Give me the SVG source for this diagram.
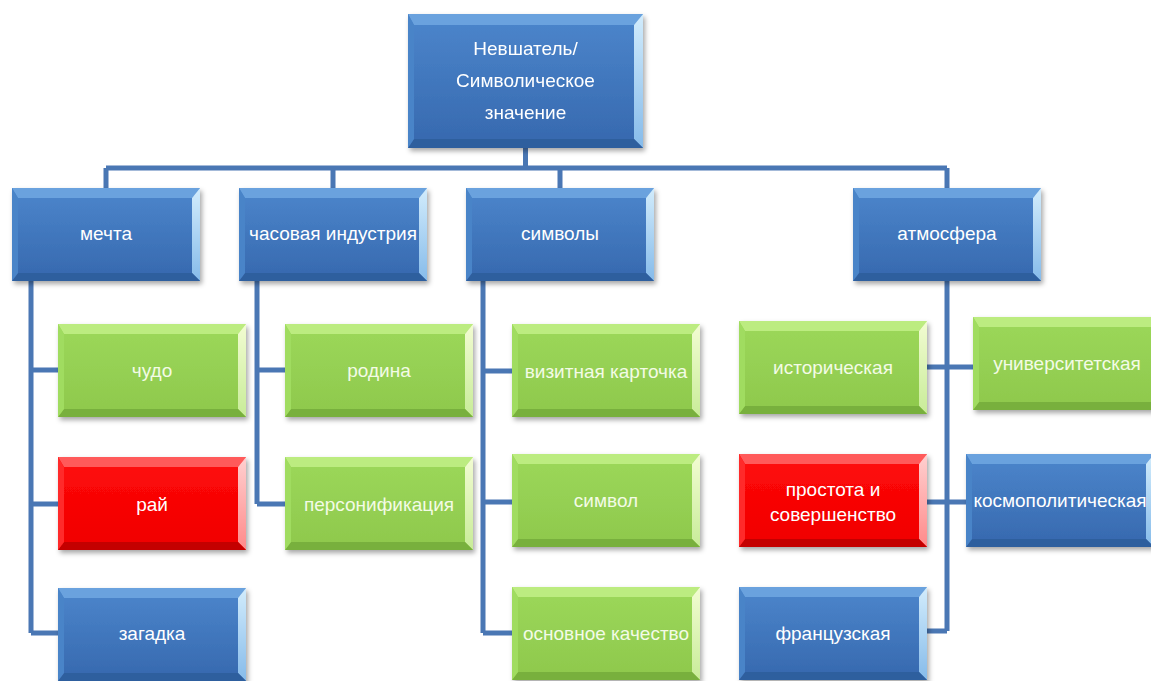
<svg xmlns="http://www.w3.org/2000/svg" xmlns:xlink="http://www.w3.org/1999/xlink" width="1151" height="681" viewBox="0 0 1151 681">
<defs>
<filter id="sh" x="-10%" y="-10%" width="125%" height="130%">
<feDropShadow dx="2" dy="3" stdDeviation="2.5" flood-color="#000" flood-opacity="0.35"/>
</filter>
<linearGradient id="gB" x1="0" y1="0" x2="0" y2="1"><stop offset="0" stop-color="#4c86cc"/><stop offset="1" stop-color="#3668ae"/></linearGradient>
<linearGradient id="gG" x1="0" y1="0" x2="0" y2="1"><stop offset="0" stop-color="#9cd85a"/><stop offset="1" stop-color="#8ec84c"/></linearGradient>
<linearGradient id="gR" x1="0" y1="0" x2="0" y2="1"><stop offset="0" stop-color="#ff0a0a"/><stop offset="1" stop-color="#f00000"/></linearGradient>
<linearGradient id="rB" x1="0" y1="0" x2="0" y2="1"><stop offset="0" stop-color="#d2ecfc"/><stop offset="1" stop-color="#86bbea"/></linearGradient>
<linearGradient id="rG" x1="0" y1="0" x2="0" y2="1"><stop offset="0" stop-color="#f2fcd2"/><stop offset="1" stop-color="#c8ec98"/></linearGradient>
<linearGradient id="rR" x1="0" y1="0" x2="0" y2="1"><stop offset="0" stop-color="#ffd0d0"/><stop offset="1" stop-color="#ff8a8a"/></linearGradient>
<g id="boxB" filter="url(#sh)">
<rect width="188" height="93" fill="url(#gB)"/>
<polygon points="0,0 188,0 180,10 6,10" fill="#6aa2de"/>
<polygon points="188,0 188,93 180,85 180,10" fill="url(#rB)"/>
<polygon points="0,93 188,93 180,85 6,85" fill="#2f5e9e"/>
<polygon points="0,0 6,10 6,85 0,93" fill="#4a84c8"/>
</g>
<g id="boxG" filter="url(#sh)">
<rect width="188" height="93" fill="url(#gG)"/>
<polygon points="0,0 188,0 180,10 6,10" fill="#bcec80"/>
<polygon points="188,0 188,93 180,85 180,10" fill="url(#rG)"/>
<polygon points="0,93 188,93 180,85 6,85" fill="#78b03c"/>
<polygon points="0,0 6,10 6,85 0,93" fill="#a0dc60"/>
</g>
<g id="boxR" filter="url(#sh)">
<rect width="188" height="93" fill="url(#gR)"/>
<polygon points="0,0 188,0 180,10 6,10" fill="#ff5a5a"/>
<polygon points="188,0 188,93 180,85 180,10" fill="url(#rR)"/>
<polygon points="0,93 188,93 180,85 6,85" fill="#c40000"/>
<polygon points="0,0 6,10 6,85 0,93" fill="#ff2a2a"/>
</g>
</defs>
<style>
text{font-family:"Liberation Sans",Arial,sans-serif;font-size:19px;text-anchor:middle;}
.tb{fill:#ffffff;}
.tg{fill:#f3fbe6;}
.tr{fill:#ffffff;}
.c{fill:none;stroke:#4a77b4;stroke-width:5;}
</style>
<rect width="1151" height="681" fill="#ffffff"/>

<g id="connectors">
<path class="c" d="M525.5,148 V168 M106,168 H947 M106,168 V188 M333,168 V188 M560,168 V188 M947,168 V188"/>
<path class="c" d="M31,281 V633 M31,370 H58 M31,504 H58 M31,633 H58"/>
<path class="c" d="M257,281 V504 M257,370 H285 M257,504 H285"/>
<path class="c" d="M483,281 V633 M483,371 H512 M483,502 H512 M483,633 H512"/>
<path class="c" d="M947,281 V631 M927,367 H973 M926,502 H966 M926,631 H947"/>
</g>

<g id="root" filter="url(#sh)">
<rect x="408" y="14" width="235" height="134" fill="url(#gB)"/>
<polygon points="408,14 643,14 634,25 414,25" fill="#6aa2de"/>
<polygon points="643,14 643,148 634,139 634,25" fill="url(#rB)"/>
<polygon points="408,148 643,148 634,139 414,139" fill="#2f5e9e"/>
<polygon points="408,14 414,25 414,139 408,148" fill="#4a84c8"/>
<text class="tb" x="525.5" y="55">Невшатель/</text>
<text class="tb" x="525.5" y="87">Символическое</text>
<text class="tb" x="525.5" y="119">значение</text>
</g>

<g id="n-mechta"><use href="#boxB" x="12" y="188"/><text class="tb" x="106" y="240">мечта</text></g>
<g id="n-chasovaya"><use href="#boxB" x="239" y="188"/><text class="tb" x="333" y="240">часовая индустрия</text></g>
<g id="n-simvoly"><use href="#boxB" x="466" y="188"/><text class="tb" x="560" y="240">символы</text></g>
<g id="n-atmosfera"><use href="#boxB" x="853" y="188"/><text class="tb" x="947" y="240">атмосфера</text></g>

<g id="n-chudo"><use href="#boxG" x="58" y="324"/><text class="tg" x="152" y="377">чудо</text></g>
<g id="n-rai"><use href="#boxR" x="58" y="457"/><text class="tr" x="152" y="511">рай</text></g>
<g id="n-zagadka"><use href="#boxB" x="58" y="588"/><text class="tb" x="152" y="640">загадка</text></g>

<g id="n-rodina"><use href="#boxG" x="285" y="324"/><text class="tg" x="379" y="377">родина</text></g>
<g id="n-personif"><use href="#boxG" x="285" y="457"/><text class="tg" x="379" y="511">персонификация</text></g>

<g id="n-vizit"><use href="#boxG" x="512" y="324"/><text class="tg" x="606" y="378">визитная карточка</text></g>
<g id="n-simvol"><use href="#boxG" x="512" y="454"/><text class="tg" x="606" y="507">символ</text></g>
<g id="n-osnovnoe"><use href="#boxG" x="512" y="587"/><text class="tg" x="606" y="640">основное качество</text></g>

<g id="n-istor"><use href="#boxG" x="739" y="321"/><text class="tg" x="833" y="374">историческая</text></g>
<g id="n-univer"><use href="#boxG" x="973" y="317"/><text class="tg" x="1067" y="370">университетская</text></g>
<g id="n-prostota"><use href="#boxR" x="739" y="454"/><text class="tr" x="833" y="496">простота и</text><text class="tr" x="833" y="521">совершенство</text></g>
<g id="n-kosmo"><use href="#boxB" x="966" y="454"/><text class="tb" x="1060" y="507">космополитическая</text></g>
<g id="n-franc"><use href="#boxB" x="739" y="587"/><text class="tb" x="833" y="640">французская</text></g>
</svg>
